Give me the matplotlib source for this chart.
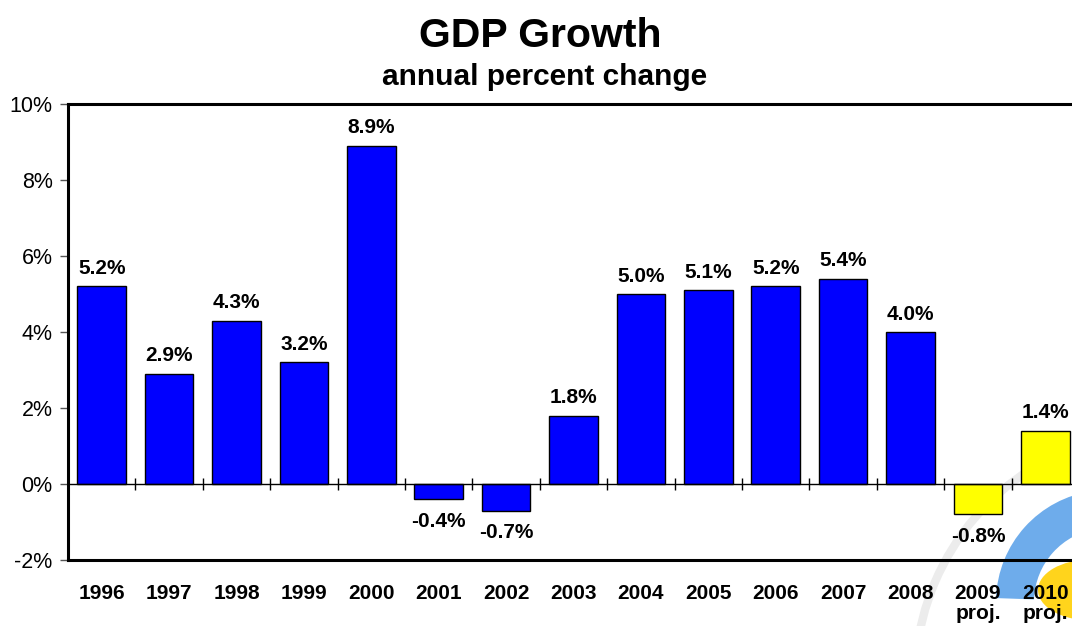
import matplotlib
matplotlib.use("Agg")
import matplotlib.pyplot as plt
from matplotlib.patches import Circle, Wedge, Arc

plt.rcParams['font.family'] = ['Liberation Sans', 'DejaVu Sans']

years = ["1996", "1997", "1998", "1999", "2000", "2001", "2002", "2003",
         "2004", "2005", "2006", "2007", "2008", "2009\nproj.", "2010\nproj."]
growth = [5.2, 2.9, 4.3, 3.2, 8.9, -0.4, -0.7, 1.8, 5.0, 5.1, 5.2, 5.4, 4.0, -0.8, 1.4]
projected = [False] * 13 + [True, True]
yticks = [-2, 0, 2, 4, 6, 8, 10]

W, H = 1072, 626
fig = plt.figure(figsize=(W / 100, H / 100), dpi=100)


def fx(px):
    return px / W


def fy(py):
    return 1 - py / H


# decorative logo (bottom right), behind the chart
r = 250
fig.patches.append(Arc((fx(1165), fy(680)), 2 * r / W, 2 * r / H,
                       theta1=110, theta2=200, transform=fig.transFigure,
                       color='#ececec', lw=6, zorder=-2))
blue = Wedge((1108, H - 602), 112, 98, 178, width=38,
             transform=None, facecolor='#4a98e6', edgecolor='none',
             alpha=0.8, zorder=-2)
fig.patches.append(blue)
fig.patches.append(Circle((fx(1090), fy(590)), 52 / W, transform=fig.transFigure,
                          facecolor='#ffd41c', edgecolor='none', zorder=-1))

ax = fig.add_axes([fx(68), fy(560), (1079 - 68) / W, (560 - 104) / H])
ax.patch.set_alpha(0)

x = list(range(len(years)))
colors = ['#ffff00' if p else '#0000ff' for p in projected]
ax.bar(x, growth, width=0.72, color=colors, edgecolor='black', linewidth=1, zorder=3)

ax.set_xlim(-0.5, len(years) - 0.5)
ax.set_ylim(-2, 10)
ax.set_yticks(yticks)
ax.set_yticklabels([f"{v}%" for v in yticks], fontsize=15.5)
ax.tick_params(axis='y', direction='out', length=6, width=1, color='#555555', pad=5)
ax.set_xticks(x)
ax.set_xticklabels(years, fontsize=15, fontweight='bold', linespacing=1.12, va='top')
ax.tick_params(axis='x', length=0, pad=17)

for s in ['left', 'top', 'bottom', 'right']:
    ax.spines[s].set_linewidth(2.2)

# zero line with category separators
ax.axhline(0, color='black', lw=1, zorder=4)
ax.vlines([i + 0.5 for i in range(len(years) - 1)], -0.17, 0.17, color='black', lw=1, zorder=4)

for xi, v in zip(x, growth):
    if v >= 0:
        ax.annotate(f"{v:.1f}%", (xi, v), xytext=(0, 6), textcoords='offset points',
                    ha='center', va='bottom', fontsize=15, fontweight='bold')
    else:
        ax.annotate(f"{v:.1f}%", (xi, v), xytext=(0, -9), textcoords='offset points',
                    ha='center', va='top', fontsize=15, fontweight='bold')

fig.text(fx(540), fy(36), "GDP Growth", ha='center', va='center',
         fontsize=29.5, fontweight='bold')
fig.text(fx(545), fy(77), "annual percent change", ha='center', va='center',
         fontsize=21.5, fontweight='bold')

fig.savefig("out.png", dpi=100)
